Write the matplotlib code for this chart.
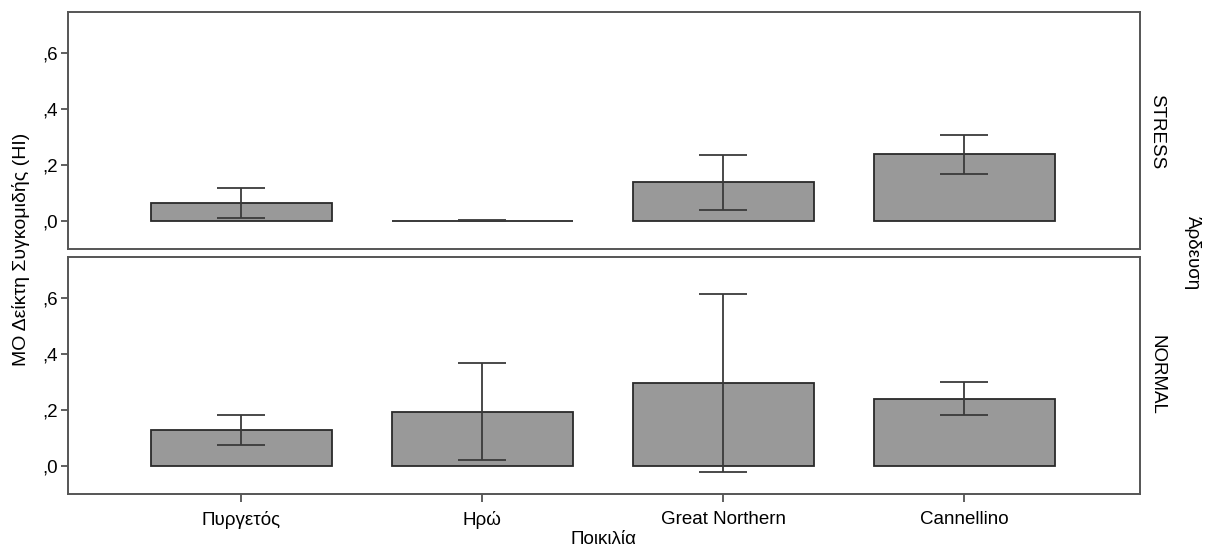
import numpy as np
from matplotlib import pyplot as plt

plt.rcParams['font.family'] = ['Liberation Sans', 'DejaVu Sans']

varieties = ["Πυργετός", "Ηρώ", "Great Northern", "Cannellino"]
groups = ["STRESS", "NORMAL"]

# means and error bar limits
stress_mean = [0.064, 0.001, 0.138, 0.239]
stress_low = [0.010, -0.002, 0.038, 0.168]
stress_high = [0.117, 0.004, 0.236, 0.308]

normal_mean = [0.127, 0.194, 0.297, 0.239]
normal_low = [0.073, 0.021, -0.022, 0.182]
normal_high = [0.181, 0.367, 0.614, 0.298]

yticks = [0.0, 0.2, 0.4, 0.6]
ytick_labels = [",0", ",2", ",4", ",6"]

fs = 13.5

fig = plt.figure(figsize=(12.06, 5.55), dpi=100)
ax_top = fig.add_axes([0.0564, 0.5514, 0.889, 0.427])
ax_bot = fig.add_axes([0.0564, 0.1099, 0.889, 0.427])

x = np.arange(len(varieties))
data = [(ax_top, stress_mean, stress_low, stress_high),
        (ax_bot, normal_mean, normal_low, normal_high)]

for ax, mean, low, high in data:
    mean = np.array(mean)
    err = [mean - np.array(low), np.array(high) - mean]
    ax.bar(x, mean, width=0.75, color="#999999", edgecolor="#2a2a2a", linewidth=1.3, zorder=2)
    ax.errorbar(x, mean, yerr=err, fmt="none", ecolor="#3a3a3a", elinewidth=1.3,
                capsize=17, capthick=1.3, zorder=3)
    ax.set_xlim(-0.72, 3.73)
    ax.set_ylim(-0.1, 0.745)
    ax.set_yticks(yticks)
    ax.set_yticklabels(ytick_labels)
    ax.tick_params(axis='y', direction='out', length=5, width=1.2, color="#444444",
                   labelsize=fs, pad=2)
    for s in ax.spines.values():
        s.set_color("#555555")
        s.set_linewidth(1.4)

ax_top.set_xticks([])
ax_bot.set_xticks(x)
ax_bot.set_xticklabels(varieties)
ax_bot.tick_params(axis='x', direction='out', length=6, width=1.2, color="#444444",
                   labelsize=fs, pad=6)

fig.text(0.0175, 0.55, "ΜΟ Δείκτη Συγκομιδής (HI)", rotation=90, ha='center', va='center', fontsize=14)
fig.text(0.5, 0.028, "Ποικιλία", ha='center', va='center', fontsize=fs)
fig.text(0.959, 0.763, groups[0], rotation=-90, ha='center', va='center', fontsize=fs)
fig.text(0.959, 0.324, groups[1], rotation=-90, ha='center', va='center', fontsize=fs)
fig.text(0.989, 0.544, "Άρδευση", rotation=-90, ha='center', va='center', fontsize=fs)

plt.savefig("out.png", dpi=100)
